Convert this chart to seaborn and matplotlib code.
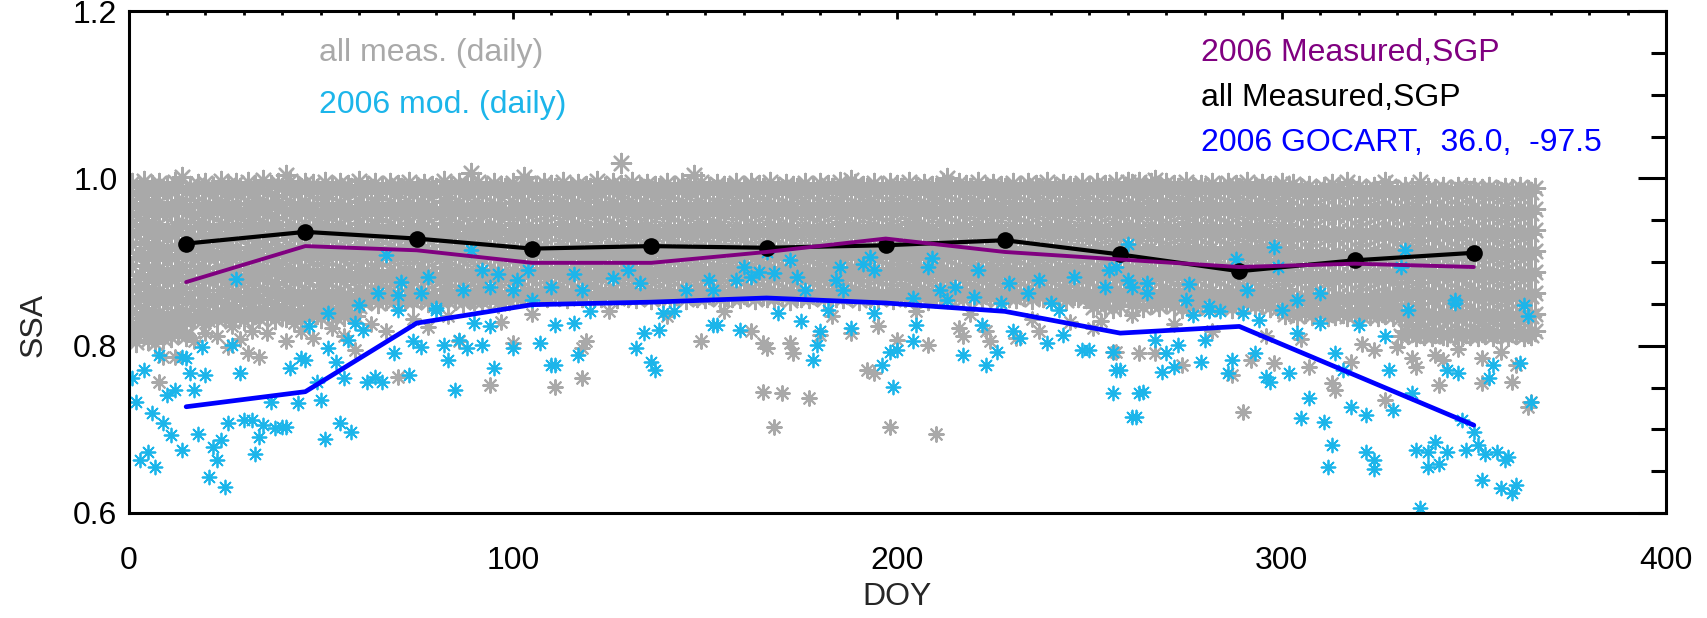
import numpy as np
import matplotlib
matplotlib.use('Agg')
import matplotlib.pyplot as plt
import seaborn as sns

# monthly means, plotted at mid-month day of year
month_doy = [15, 46, 75, 105, 136, 166, 197, 228, 258, 289, 319, 350]
ssa_all_meas = [0.922, 0.936, 0.928, 0.916, 0.919, 0.917, 0.920, 0.926, 0.909, 0.889, 0.902, 0.911]
ssa_2006_meas = [0.876, 0.919, 0.914, 0.899, 0.899, 0.912, 0.928, 0.912, 0.903, 0.894, 0.898, 0.894]
ssa_gocart = [0.727, 0.745, 0.827, 0.849, 0.852, 0.857, 0.851, 0.841, 0.815, 0.823, 0.765, 0.705]

# 2006 model, daily (doy, ssa)
cyan_doy = [1, 2, 3, 4, 5, 6, 7, 8, 9, 10, 11, 12, 14, 14, 15, 16, 17, 18, 19, 20,
            21, 22, 23, 24, 25, 26, 27, 28, 29, 30, 32, 33, 34, 35, 37, 38, 40, 41, 42, 44,
            45, 46, 47, 49, 50, 51, 52, 52, 54, 55, 56, 57, 58, 59, 60, 61, 62, 64, 65, 66,
            67, 69, 70, 70, 71, 73, 74, 76, 76, 78, 80, 80, 82, 83, 85, 86, 87, 88, 89, 90,
            92, 92, 94, 94, 95, 96, 100, 100, 101, 104, 105, 107, 110, 110, 111, 111, 116, 116, 117, 118,
            120, 126, 130, 132, 133, 134, 136, 137, 138, 139, 142, 145, 151, 152, 152, 153, 158, 159, 160, 162,
            164, 166, 168, 169, 172, 174, 175, 176, 178, 179, 180, 182, 184, 185, 186, 188, 191, 193, 194, 194,
            196, 198, 199, 200, 204, 204, 205, 208, 209, 211, 213, 215, 217, 220, 221, 222, 223, 226, 227, 229,
            230, 232, 234, 237, 239, 240, 242, 243, 246, 248, 250, 254, 255, 256, 256, 257, 257, 258, 260, 260,
            261, 261, 262, 263, 264, 265, 265, 267, 269, 270, 272, 273, 275, 276, 277, 279, 280, 281, 281, 284,
            286, 287, 288, 290, 291, 293, 294, 296, 297, 298, 299, 300, 302, 304, 304, 305, 307, 310, 310, 311,
            312, 313, 314, 316, 318, 320, 322, 322, 324, 324, 327, 328, 329, 331, 332, 333, 334, 335, 336, 338,
            338, 340, 341, 343, 343, 345, 345, 346, 347, 348, 350, 351, 352, 353, 354, 355, 356, 357, 358, 359,
            360, 361, 362, 363, 364, 365]
cyan_ssa = [0.761, 0.733, 0.663, 0.771, 0.673, 0.719, 0.655, 0.789, 0.707, 0.741, 0.693, 0.747, 0.787, 0.675, 0.785, 0.767, 0.747, 0.695, 0.799, 0.765,
            0.643, 0.679, 0.663, 0.687, 0.631, 0.707, 0.801, 0.880, 0.767, 0.711, 0.711, 0.671, 0.691, 0.705, 0.733, 0.701, 0.703, 0.703, 0.773, 0.731,
            0.785, 0.783, 0.823, 0.757, 0.735, 0.689, 0.797, 0.839, 0.781, 0.707, 0.761, 0.807, 0.697, 0.827, 0.849, 0.819, 0.757, 0.763, 0.863, 0.757,
            0.908, 0.791, 0.861, 0.843, 0.876, 0.765, 0.805, 0.799, 0.863, 0.882, 0.845, 0.843, 0.801, 0.783, 0.747, 0.807, 0.867, 0.797, 0.914, 0.827,
            0.801, 0.890, 0.823, 0.870, 0.773, 0.886, 0.797, 0.867, 0.878, 0.890, 0.855, 0.803, 0.777, 0.870, 0.825, 0.777, 0.827, 0.886, 0.789, 0.867,
            0.841, 0.881, 0.890, 0.797, 0.875, 0.815, 0.781, 0.771, 0.819, 0.839, 0.841, 0.867, 0.878, 0.867, 0.825, 0.825, 0.878, 0.819, 0.894, 0.882,
            0.888, 0.912, 0.887, 0.839, 0.902, 0.882, 0.829, 0.867, 0.783, 0.801, 0.817, 0.843, 0.878, 0.894, 0.867, 0.821, 0.898, 0.906, 0.890, 0.839,
            0.777, 0.793, 0.751, 0.795, 0.857, 0.805, 0.825, 0.894, 0.905, 0.867, 0.855, 0.870, 0.789, 0.858, 0.890, 0.825, 0.777, 0.793, 0.851, 0.875,
            0.817, 0.809, 0.863, 0.878, 0.803, 0.851, 0.843, 0.813, 0.882, 0.795, 0.795, 0.870, 0.890, 0.793, 0.743, 0.771, 0.894, 0.771, 0.922, 0.879,
            0.870, 0.715, 0.715, 0.744, 0.745, 0.875, 0.863, 0.807, 0.769, 0.791, 0.775, 0.801, 0.855, 0.874, 0.837, 0.781, 0.807, 0.841, 0.847, 0.841,
            0.767, 0.783, 0.904, 0.839, 0.867, 0.791, 0.831, 0.763, 0.757, 0.918, 0.894, 0.843, 0.767, 0.815, 0.855, 0.713, 0.737, 0.827, 0.863, 0.709,
            0.655, 0.681, 0.791, 0.771, 0.727, 0.825, 0.717, 0.673, 0.663, 0.653, 0.811, 0.771, 0.723, 0.894, 0.914, 0.843, 0.743, 0.675, 0.606, 0.655,
            0.673, 0.685, 0.659, 0.673, 0.771, 0.851, 0.855, 0.767, 0.711, 0.675, 0.697, 0.681, 0.639, 0.671, 0.761, 0.777, 0.673, 0.630, 0.663, 0.667,
            0.624, 0.633, 0.779, 0.849, 0.835, 0.733]

# all years of measurements, daily: "doy: ssa x1000 ..."
gray_daily = """
1: 994 970 946 921 895 868 840 812
2: 982 957 933 906 880 853 826 804
3: 990 964 938 912 886 859 833 816
4: 997 975 950 924 897 871 845 820
5: 986 960 935 909 882 856 829 807
6: 992 968 942 917 890 863 837 811
7: 980 955 929 902 876 850 823 803
8: 995 972 946 920 893 866 840 818
9: 987 961 934 908 884 858 831 809
10: 991 966 940 914 887 861 834 815
11: 984 958 932 905 879 852 827 810
12: 996 970 943 918 891 865 838 821
13: 988 963 936 910 883 857 830 814
14: 1002 974 948 921 895 869 843 825
15: 985 959 933 907 881 854 828 812
16: 991 967 941 914 888 862 836
17: 982 956 930 903 877 851 833
18: 993 968 943 916 890 864 838
19: 987 960 934 908 882 855 829
20: 995 971 945 919 893 866 841
21: 983 957 931 905 878 852 835
22: 990 964 939 912 885 859 837
23: 986 961 935 908 881 854 832
24: 997 972 946 920 894 867 842
25: 984 958 932 904 877 851 834
26: 992 966 940 913 887 861 839
27: 981 955 929 903 876 849 830
28: 994 969 943 917 890 864 841
29: 988 962 936 909 883 857 836
30: 985 959 933 906 880 853 831
31: 996 971 945 918 892 865 843
32: 983 957 931 904 878 852 834
33: 991 965 939 913 886 860 838
34: 987 961 935 908 882 855 833
35: 998 973 947 921 894 868 845
36: 984 958 932 905 879 853 836
37: 992 967 941 914 888 861 840
38: 980 954 928 902 876 850 832
39: 994 969 944 917 891 864 842
40: 989 963 937 910 884 858 837
41: 1004 986 960 934 907 881 854 834
42: 997 972 946 919 893 867 844
43: 983 957 931 905 879 852 835
44: 991 965 940 913 887 860 839
45: 988 962 935 909 882 856 831
46: 995 970 944 918 891 865 843
47: 982 956 930 904 878 851 836
48: 993 968 942 915 889 863 841
49: 987 961 934 908 883 857 838
50: 985 959 933 906 880 854 833
51: 996 971 945 919 892 866 845
52: 983 958 932 905 879 853 837
53: 990 964 938 912 886 859 840
54: 986 960 935 909 882 856 834
55: 994 969 943 917 890 864 846
56: 981 955 929 903 877 851 836
57: 992 967 941 914 888 862 842
58: 988 962 936 910 884 857 839
59: 985 958 932 906 879 853 835
60: 997 972 946 920 893 867 847
61: 984 958 931 905 878 852
62: 991 966 940 913 887 860
63: 987 961 935 909 882 856
64: 994 969 943 916 890 864
65: 982 956 930 904 877 851
66: 990 965 939 912 886 859
67: 986 960 933 907 880 854
68: 995 970 944 918 891 865
69: 983 957 931 905 878 853
70: 992 967 941 914 888 861
71: 988 962 936 910 883 857
72: 985 959 933 906 880 855
73: 996 971 945 919 892 866
74: 983 958 932 906 879 853
75: 990 964 938 911 885 858
76: 987 961 934 908 882 856
77: 993 968 942 915 889 863
78: 981 955 929 903 877 852
79: 991 966 940 913 887 861
80: 988 962 936 909 883 857
81: 985 959 932 906 880 854
82: 997 972 946 919 893 867
83: 984 958 931 905 879 853
84: 990 965 939 912 886 860
85: 986 960 934 908 881 855
86: 994 969 943 917 890 864
87: 982 956 930 904 878 852
88: 992 967 941 914 888 862
89: 1006 988 962 935 909 883 857
90: 985 959 933 907 880 854
91: 996 971 945 918 892 866
92: 983 957 931 905 878 853
93: 990 964 938 912 885 859
94: 987 961 935 908 882 856
95: 994 968 942 916 890 863
96: 981 955 929 903 877 851
97: 991 965 939 913 886 860
98: 988 962 936 910 884 858
99: 985 959 933 906 880 855
100: 995 970 944 918 891 865
101: 983 958 932 907 882 858
102: 990 965 939 913 888 862
103: 1002 986 961 935 909 884 859
104: 994 969 943 917 892 866
105: 982 957 931 906 881 857
106: 991 966 940 914 889 863
107: 987 962 936 910 885 860
108: 995 970 944 918 893 868
109: 984 959 933 907 882 858
110: 992 967 941 915 890 864
111: 988 963 937 911 886 861
112: 985 960 934 908 883 859
113: 996 971 945 919 894 868
114: 983 958 932 906 881 857
115: 990 965 939 913 888 863
116: 986 961 935 909 884 860
117: 993 968 942 916 891 866
118: 981 956 930 905 880 858
119: 991 966 940 914 889 864
120: 988 963 937 911 886 861
121: 985 960 934 908 883 859
122: 997 972 946 920 895 869
123: 984 959 933 907 882 858
124: 990 965 939 913 888 862
125: 987 962 936 910 885 860
126: 994 969 943 917 892 867
127: 982 957 931 905 880 857
128: 1018 992 967 941 915 890 864
129: 988 963 937 911 886 861
130: 985 960 934 908 883 858
131: 996 971 945 919 894 868
132: 983 958 932 906 881 857
133: 990 965 939 913 888 863
134: 987 962 936 910 885 859
135: 993 968 942 916 891 866
136: 981 956 930 904 879 856
137: 991 966 940 914 889 864
138: 988 963 937 911 886 861
139: 985 960 934 908 883 858
140: 995 970 944 918 893 867
141: 984 959 933 907 882 857
142: 990 965 939 913 888 862
143: 986 961 935 909 884 860
144: 994 969 943 917 892 866
145: 982 957 931 905 880 856
146: 992 967 941 915 890 864
147: 1004 990 963 937 911 886 861
148: 985 960 934 908 883 858
149: 996 971 945 919 894 868
150: 983 958 932 906 881 857
151: 990 965 939 913 888 862
152: 987 962 936 910 885 860
153: 993 968 942 916 891 865
154: 981 956 930 904 879 856
155: 991 966 940 914 889 863
156: 988 963 937 911 886 861
157: 985 960 934 908 883 858
158: 995 970 944 918 893 867
159: 984 959 933 907 882 857
160: 990 965 939 913 888 862
161: 986 961 935 909 884 859
162: 994 969 943 917 892 866
163: 982 957 931 905 880 856
164: 992 967 941 915 890 864
165: 988 963 937 911 886 860
166: 985 960 934 908 883 858
167: 996 971 945 919 894 868
168: 983 958 932 906 881 857
169: 990 965 939 913 888 862
170: 987 962 936 910 885 859
171: 993 968 942 916 891 865
172: 981 956 930 904 879 855
173: 991 966 940 914 889 863
174: 988 963 937 911 886 861
175: 985 960 934 908 883 858
176: 995 970 944 918 893 867
177: 984 959 933 907 882 857
178: 990 965 939 913 888 862
179: 986 961 935 909 884 859
180: 994 969 943 917 892 866
181: 982 957 931 905 880 856
182: 992 967 941 915 890 864
183: 988 963 937 911 886 860
184: 985 960 934 908 883 858
185: 996 971 945 919 894 868
186: 983 958 932 906 881 857
187: 990 965 939 913 888 862
188: 998 987 962 936 910 885 859
189: 993 968 942 916 891 865
190: 981 956 930 904 879 855
191: 991 966 940 914 889 863
192: 988 963 937 911 886 861
193: 985 960 934 908 883 858
194: 995 970 944 918 893 867
195: 984 959 933 907 882 857
196: 990 965 939 913 888 862
197: 986 961 935 909 884 859
198: 994 969 943 917 892 866
199: 982 957 931 905 880 856
200: 992 967 941 915 890 864
201: 988 963 937 911 886 860
202: 985 960 934 908 883 858
203: 996 971 945 919 894 868
204: 983 958 932 906 881 857
205: 990 965 939 913 888 862
206: 987 962 936 910 885 859
207: 993 968 942 916 891 865
208: 981 956 930 904 879 855
209: 991 966 940 914 889 863
210: 988 963 937 911 886 861
211: 985 960 934 908 883 858
212: 995 970 944 918 893 867
213: 1000 984 959 933 907 882 857
214: 990 965 939 913 888 862
215: 986 961 935 909 884 859
216: 994 969 943 917 892 866
217: 982 957 931 905 880 856
218: 992 967 941 915 890 864
219: 988 963 937 911 886 860
220: 985 960 934 908 883 858
221: 996 971 945 919 894 868
222: 983 958 932 906 881 857
223: 990 965 939 913 888 862
224: 987 962 936 910 885 859
225: 993 968 942 916 891 865
226: 981 956 930 904 879 855
227: 991 966 940 914 889 863
228: 988 963 937 911 886 861
229: 985 960 934 908 883 858
230: 995 970 944 918 893 867
231: 984 959 933 907 882 857
232: 990 965 939 913 888 862
233: 986 961 935 909 884 859
234: 994 969 943 917 892 866
235: 982 957 931 905 880 856
236: 992 967 941 915 890 864
237: 988 963 937 911 886 860
238: 985 960 934 908 883 858
239: 996 971 945 919 894 868
240: 983 958 932 906 881 857
241: 990 965 939 913 888 862
242: 987 962 936 910 885 859
243: 993 968 942 916 891 865
244: 981 956 930 904 879 855
245: 991 966 940 914 889 863
246: 988 963 937 911 886 861
247: 985 960 934 908 883 858
248: 995 970 944 918 893 867
249: 984 959 933 907 882 857
250: 990 965 939 913 888 862
251: 986 961 935 909 884 859 846
252: 994 969 943 917 892 866 850
253: 982 957 931 905 880 855
254: 992 967 941 915 890 864 848
255: 988 963 937 911 886 860
256: 985 960 934 908 883 857 845
257: 996 971 945 919 894 868
258: 983 958 932 906 881 856 847
259: 990 965 939 913 888 862
260: 996 987 962 936 910 885 859
261: 993 968 942 916 891 865 849
262: 981 956 930 904 879 854
263: 996 991 966 940 914 889 863
264: 988 963 937 911 886 861 846
265: 985 960 934 908 883 857
266: 995 970 944 918 893 867 850
267: 998 984 959 933 907 882 856
268: 990 965 939 913 888 862 847
269: 986 961 935 909 884 858
270: 994 969 943 917 892 866 851
271: 982 957 931 905 880 854
272: 992 967 941 915 890 864 848
273: 988 963 937 911 886 860
274: 985 960 934 908 883 857 845
275: 996 971 945 919 894 868
276: 983 958 932 906 881 855 846
277: 990 965 939 913 888 862 848
278: 982 957 931 905 880 855
279: 992 967 941 915 890 864 849
280: 988 963 937 911 886 860
281: 985 960 934 908 883 857 846
282: 995 970 944 918 893 867
283: 984 959 933 907 882 856 847
284: 990 965 939 913 888 862
285: 986 961 935 909 884 858 849
286: 994 969 943 917 892 866
287: 983 957 931 905 880 854 845
288: 992 967 941 915 890 864
289: 988 963 937 911 886 860 848
290: 985 960 934 908 883 857
291: 996 971 945 919 894 868 851
292: 983 958 932 906 881 855
293: 990 965 939 913 888 862 847
294: 987 962 936 910 885 859
295: 993 968 942 916 891 865 850
296: 981 956 930 904 879 853
297: 991 966 940 914 889 863 846
298: 988 963 937 911 886 860
299: 985 960 934 908 883 857 845
300: 995 970 944 918 893 867
301: 983 958 932 906 880 855 838
302: 990 965 939 913 887 861 842
303: 993 986 961 935 909 883 857 840
304: 980 955 929 903 877 851 836
305: 988 963 937 911 885 859 843
306: 984 959 933 907 881 855 839
307: 991 966 940 914 888 862 845
308: 979 954 928 902 876 850 837
309: 987 962 936 910 884 858 841
310: 983 958 932 906 880 854 838
311: 990 965 939 913 887 861 844
312: 981 956 930 904 878 852 836
313: 993 985 960 934 908 882 856 840
314: 982 957 931 905 879 853 837
315: 989 964 938 912 886 860 843
316: 985 960 934 908 882 856 839
317: 996 980 955 929 903 877 851 836
318: 988 963 937 911 885 859 842
319: 984 959 933 907 881 855 838
320: 991 966 940 914 888 862 845
321: 980 955 929 903 877 851 835
322: 987 962 936 910 884 858 841
323: 983 958 932 906 880 854 837
324: 990 965 939 913 887 861 844
325: 981 956 930 904 878 852 836
326: 988 963 937 911 885 859 840
327: 996 984 959 933 907 881 855 838
328: 991 966 940 914 888 862 843
329: 979 954 928 902 876 850 836
330: 986 961 935 909 883 857 841
331: 983 958 933 908 883 858 834 812
332: 990 965 940 915 890 865 840 818
333: 981 956 931 906 881 856 831 814
334: 988 963 938 913 888 863 838 816
335: 984 959 934 909 884 859 835 811
336: 996 976 951 926 901 876 851 826 815
337: 985 960 935 910 885 860 836 813
338: 989 964 939 914 889 864 839 817
339: 982 957 932 907 882 857 833 812
340: 987 962 937 912 887 862 837 815
341: 983 958 933 908 883 858 834 818
342: 990 965 940 915 890 865 840 813
343: 980 955 930 905 880 855 831 811
344: 986 961 936 911 886 861 836 816
345: 984 959 934 909 884 859 835 814
346: 990 966 941 916 891 866 841 819
347: 982 957 932 907 882 857 832 812
348: 988 963 938 913 888 863 838 815
349: 985 960 935 910 885 860 836 813
350: 989 964 939 914 889 864 839 817
351: 981 956 931 906 881 856 832 811
352: 987 962 937 912 887 862 837 816
353: 983 958 933 908 883 858 834 814
354: 990 965 940 915 890 865 840 818
355: 982 957 932 907 882 857 833 812
356: 986 961 936 911 886 861 836 815
357: 984 959 934 909 884 859 835 813
358: 989 964 939 914 889 864 839 817
359: 980 955 930 905 880 855 831 811
360: 987 962 937 912 887 862 837 816
361: 983 958 933 908 883 858 834 814
362: 990 965 940 915 890 865 840 818
363: 982 957 932 907 882 857 833 812
364: 986 961 936 911 886 861 836 815
365: 984 959 934 909 884 859 835 813
366: 988 963 938 913 888 863 838 817
"""

# sparse low measurements below the dense band
gray_low_doy = [4, 8, 9, 12, 15, 17, 20, 21, 23, 26, 27, 29, 31, 32, 34, 36, 39, 41, 43, 45,
                48, 53, 56, 59, 63, 67, 70, 74, 78, 83, 86, 94, 97, 100, 105, 111, 118, 118, 119, 125,
                140, 149, 155, 162, 165, 165, 166, 168, 170, 172, 173, 177, 180, 183, 188, 192, 194, 195, 198, 200,
                205, 208, 210, 216, 217, 219, 223, 224, 231, 235, 237, 245, 251, 253, 256, 257, 261, 263, 267, 272,
                274, 282, 287, 290, 292, 296, 298, 305, 307, 313, 314, 318, 321, 324, 327, 330, 334, 335, 340, 341,
                342, 346, 352, 352, 357, 360, 361, 364, 365]
gray_low_ssa = [0.815, 0.757, 0.787, 0.787, 0.815, 0.805, 0.815, 0.829, 0.812, 0.798, 0.823, 0.808, 0.791, 0.817, 0.787, 0.815, 0.845, 0.806, 0.827, 0.818,
                0.809, 0.821, 0.812, 0.795, 0.826, 0.818, 0.763, 0.832, 0.822, 0.835, 0.805, 0.753, 0.828, 0.803, 0.838, 0.751, 0.761, 0.797, 0.805, 0.842,
                0.835, 0.805, 0.841, 0.817, 0.803, 0.745, 0.797, 0.703, 0.744, 0.803, 0.791, 0.737, 0.813, 0.836, 0.815, 0.771, 0.767, 0.823, 0.703, 0.807,
                0.842, 0.801, 0.695, 0.821, 0.811, 0.838, 0.817, 0.805, 0.809, 0.832, 0.817, 0.828, 0.821, 0.829, 0.793, 0.793, 0.837, 0.791, 0.791, 0.826,
                0.777, 0.818, 0.765, 0.721, 0.783, 0.812, 0.779, 0.808, 0.775, 0.755, 0.747, 0.781, 0.802, 0.795, 0.735, 0.798, 0.785, 0.775, 0.789, 0.753,
                0.783, 0.796, 0.755, 0.785, 0.792, 0.757, 0.777, 0.727, 0.733]

band_doy, band_ssa = [], []
for row in gray_daily.strip().splitlines():
    day, vals = row.split(':')
    for v in vals.split():
        band_doy.append(int(day))
        band_ssa.append(int(v) / 1000)

GRAY = '#a9a9a9'
CYAN = '#1cb5ea'
PURPLE = '#800080'
BLUE = '#0000ff'
FS = 23
star = (8, 2, 0)

sns.set_style('white')
plt.rcParams['font.family'] = ['Liberation Sans', 'DejaVu Sans']

fig = plt.figure(figsize=(17.07, 6.18), dpi=100)
ax = fig.add_axes([128.5 / 1707, 1 - 513 / 618, (1666 - 128.5) / 1707, (513 - 11) / 618])

# dense band: bigger stars so the overlapping years merge into one grey mass
sns.scatterplot(x=band_doy, y=band_ssa, marker=star, s=190, color=GRAY,
                edgecolor=None, linewidth=1.7, ax=ax, legend=False, zorder=1)
sns.scatterplot(x=gray_low_doy, y=gray_low_ssa, marker=star, s=110, color=GRAY,
                edgecolor=None, linewidth=1.5, ax=ax, legend=False, zorder=1)
sns.scatterplot(x=cyan_doy, y=cyan_ssa, marker=star, s=100, color=CYAN,
                edgecolor=None, linewidth=1.3, ax=ax, legend=False, zorder=2)

sns.lineplot(x=month_doy, y=ssa_all_meas, color='black', linewidth=3,
             marker='o', markersize=12, markeredgewidth=0, ax=ax, zorder=3)
sns.lineplot(x=month_doy, y=ssa_2006_meas, color=PURPLE, linewidth=2.8, ax=ax, zorder=4)
sns.lineplot(x=month_doy, y=ssa_gocart, color=BLUE, linewidth=3.4, ax=ax, zorder=5)

ax.set_xlim(0, 400)
ax.set_ylim(0.6, 1.2)
ax.set_xticks([0, 100, 200, 300, 400])
ax.set_xticks(np.arange(0, 401, 10), minor=True)
ax.set_yticks([0.6, 0.8, 1.0, 1.2])
ax.set_yticklabels(['0.6', '0.8', '1.0', '1.2'])
ax.set_yticks(np.arange(0.6, 1.2001, 0.05), minor=True)

ax.tick_params(axis='both', which='both', direction='in', top=True, right=True,
               labelsize=FS, colors='black')
ax.tick_params(axis='y', which='major', length=20, width=2.2, pad=8)
ax.tick_params(axis='y', which='minor', length=11, width=2.2)
ax.tick_params(axis='x', which='major', length=6, width=2, pad=24)
ax.tick_params(axis='x', which='minor', length=3, width=2)
for sp in ax.spines.values():
    sp.set_linewidth(2.2)
    sp.set_color('black')

ax.set_xlabel('DOY', fontsize=FS)
ax.xaxis.set_label_coords(0.5, -0.137)
ax.set_ylabel('SSA', fontsize=FS)
ax.yaxis.set_label_coords(-0.052, 0.375)

ax.text(49.6, 1.150, 'all meas. (daily)', color=GRAY, fontsize=FS, va='center')
ax.text(49.6, 1.088, '2006 mod. (daily)', color=CYAN, fontsize=FS, va='center')
ax.text(279, 1.150, '2006 Measured,SGP', color=PURPLE, fontsize=FS, va='center')
ax.text(279, 1.096, 'all Measured,SGP', color='black', fontsize=FS, va='center')
ax.text(279, 1.042, '2006 GOCART,  36.0,  -97.5', color=BLUE, fontsize=FS, va='center')

fig.savefig('out.png', dpi=100)
